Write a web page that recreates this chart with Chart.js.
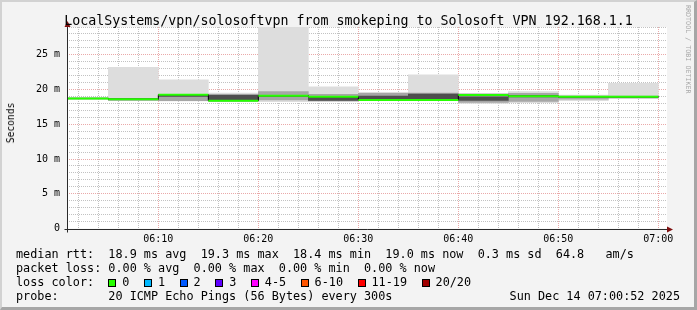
<!DOCTYPE html>
<html>
<head>
<meta charset="utf-8">
<script src="https://cdn.jsdelivr.net/npm/chart.js@4.4.1/dist/chart.umd.min.js"></script>
<style>
    html, body { margin: 0; padding: 0; background: #f3f3f3; }
    #frame {
        position: relative; width: 697px; height: 310px; overflow: hidden;
        background: #f3f3f3; font-family: 'DejaVu Sans Mono', monospace; color: #000;
    }
    #frame::after {
        content: ''; position: absolute; inset: 0; pointer-events: none; box-sizing: border-box;
        border-top: 2px solid #d2d2d2; border-left: 2px solid #d2d2d2;
        border-right: 3px solid #a6a6a6; border-bottom: 3px solid #a6a6a6;
    }
    #wrap { position: absolute; left: 0; top: 0; width: 697px; height: 310px; }
    .title { position: absolute; left: 0; width: 697px; top: 14px; text-align: center;
             font-size: 13.3px; line-height: 13px; white-space: pre; }
    .ylab { position: absolute; left: 11px; top: 122.5px; font-size: 9.6px; line-height: 10px;
            transform: translate(-50%, -50%) rotate(-90deg); white-space: pre; }
    .credit { position: absolute; left: 684px; top: 5px; writing-mode: vertical-rl;
              font-size: 6.7px; color: #a8a8a8; white-space: pre; }
    .leg { position: absolute; left: 16px; font-size: 11.8px; line-height: 14px; white-space: pre; }
    .date { position: absolute; right: 17px; top: 289px; font-size: 11.8px; line-height: 14px; white-space: pre; }
    .it { margin-right: 14.5px; }
    .bx { display: inline-block; width: 6px; height: 6px; border: 1px solid #000;
          margin-right: 6px; vertical-align: middle; }
</style>
</head>
<body>
<div id="frame">
    <div id="wrap"><canvas id="chart-smoke"></canvas></div>
    <div class="title">LocalSystems/vpn/solosoftvpn from smokeping to Solosoft VPN 192.168.1.1</div>
    <div class="ylab">Seconds</div>
    <div class="credit">RRDTOOL / TOBI OETIKER</div>
    <div class="leg" style="top:247px">median rtt:  18.9 ms avg  19.3 ms max  18.4 ms min  19.0 ms now  0.3 ms sd  64.8   am/s</div>
    <div class="leg" style="top:261px">packet loss: 0.00 % avg  0.00 % max  0.00 % min  0.00 % now</div>
    <div class="leg" id="loss-legend" style="top:275px">loss color:  </div>
    <div class="leg" style="top:289px">probe:       20 ICMP Echo Pings (56 Bytes) every 300s</div>
    <div class="date">Sun Dec 14 07:00:52 2025</div>
</div>
<script>
// time window and 5 minute steps (values are in ms)
const graphStart = '06:00:52';
const binEnds = ['06:05', '06:10', '06:15', '06:20', '06:25', '06:30',
                 '06:35', '06:40', '06:45', '06:50', '06:55', '07:00'];

const medianRtt = [18.7, 18.6, 19.25, 18.4, 19.1, 18.95, 18.5, 18.5, 19.2, 19.05, 18.95, 18.95];

// smoke: full range of the 20 pings, then two inner percentile bands
const smokeMin = [18.6, 18.4, 18.35, 18.3, 18.25, 18.3, 18.4, 18.5, 18.0, 18.1, 18.4, 18.7];
const smokeMax = [18.85, 23.2, 21.4, 19.5, 30.0, 20.4, 19.6, 22.1, 19.45, 19.7, 19.2, 20.9];
const midLo = [18.65, 18.45, 18.4, 18.35, 18.5, 18.35, 18.45, 18.5, 18.15, 18.3, 18.6, 18.8];
const midHi = [18.8, 18.75, 19.3, 19.25, 19.7, 19.3, 19.45, 19.5, 19.35, 19.45, 19.05, 19.05];
const innerLo = [18.7, 18.55, 19.0, 18.4, 19.05, 18.45, 18.6, 18.6, 18.45, 18.95, 18.9, 18.9];
const innerHi = [18.75, 18.65, 19.2, 19.2, 19.15, 19.0, 19.05, 19.35, 18.95, 19.1, 19.0, 19.0];

const xTickLabels = ['06:10', '06:20', '06:30', '06:40', '06:50', '07:00'];
const yTickLabels = ['0', '5 m', '10 m', '15 m', '20 m', '25 m'];
const yTickValues = [0, 5, 10, 15, 20, 25];

const lossLabels = ['0', '1', '2', '3', '4-5', '6-10', '11-19', '20/20'];
const lossColors = ['#26ff00', '#00b8ff', '#0059ff', '#5e00ff', '#ff00ff', '#ff5500', '#ff0000', '#a10000'];

const stepMin = 5;
const yMax = 29;

function toMin(s) {
    const [h, m, sec = 0] = s.split(':').map(Number);
    return (h - 6) * 60 + m + sec / 60;
}

const xMin = toMin(graphStart);
const xMax = xMin + 60;
const ends = binEnds.map(toMin);
const xMajor = xTickLabels.map(toMin);

function band(lo, hi) {
    return ends.map((e, i) => ({ x: e - stepMin / 2, y: [lo[i], hi[i]] }));
}

// green median: horizontal pieces only
const medianSegs = [];
ends.forEach((e, i) => {
    medianSegs.push({ x: Math.max(e - stepMin, xMin), y: medianRtt[i] });
    medianSegs.push({ x: e, y: medianRtt[i] });
    medianSegs.push({ x: e, y: null });
});

// thin black step line under it (shows the jumps)
const medianSteps = ends.map((e, i) => ({ x: Math.max(e - stepMin, xMin), y: medianRtt[i] }));
medianSteps.push({ x: ends[ends.length - 1], y: medianRtt[medianRtt.length - 1] });

// loss color legend
const lossEl = document.getElementById('loss-legend');
lossLabels.forEach((lab, i) => {
    const it = document.createElement('span');
    it.className = 'it';
    const bx = document.createElement('span');
    bx.className = 'bx';
    bx.style.background = lossColors[i];
    it.appendChild(bx);
    it.appendChild(document.createTextNode(lab));
    lossEl.appendChild(it);
});

const MAJOR = 'rgba(200, 30, 30, 0.38)';
const MINOR = 'rgba(120, 120, 120, 0.45)';
const NONE = 'rgba(0, 0, 0, 0)';
const tickFont = { family: "'DejaVu Sans Mono'", size: 10 };

const rrdFrame = {
    id: 'rrdFrame',
    beforeDraw(chart) {
        const { ctx, chartArea: a } = chart;
        ctx.save();
        ctx.fillStyle = '#ffffff';
        ctx.fillRect(a.left, a.top, a.right - a.left, a.bottom - a.top);
        ctx.restore();
    },
    afterDraw(chart) {
        const { ctx, chartArea: a } = chart;
        const x0 = Math.round(a.left) + 0.5;
        const y0 = Math.round(a.bottom) + 0.5;
        ctx.save();
        ctx.strokeStyle = '#2a2a2a';
        ctx.lineWidth = 1;
        ctx.beginPath();
        ctx.moveTo(x0 - 3, y0);
        ctx.lineTo(a.right + 4, y0);
        ctx.moveTo(x0, y0 + 3);
        ctx.lineTo(x0, a.top - 4);
        ctx.stroke();
        ctx.fillStyle = '#7f1010';
        ctx.beginPath();
        ctx.moveTo(x0, a.top - 6);
        ctx.lineTo(x0 - 3, a.top);
        ctx.lineTo(x0 + 3, a.top);
        ctx.closePath();
        ctx.fill();
        ctx.beginPath();
        ctx.moveTo(a.right + 6, y0);
        ctx.lineTo(a.right, y0 - 3);
        ctx.lineTo(a.right, y0 + 3);
        ctx.closePath();
        ctx.fill();
        ctx.restore();
    },
};

new Chart(document.getElementById('chart-smoke'), {
    type: 'bar',
    data: {
        datasets: [
            {
                type: 'line',
                label: 'median rtt',
                data: medianSegs,
                borderColor: '#26ff00',
                borderWidth: 2,
                pointRadius: 0,
                spanGaps: false,
                order: 0,
            },
            {
                type: 'line',
                label: 'median step',
                data: medianSteps,
                borderColor: '#000000',
                borderWidth: 1,
                pointRadius: 0,
                stepped: 'before',
                order: 1,
            },
            { label: 'smoke inner', data: band(innerLo, innerHi), backgroundColor: '#4e4e4e', order: 2 },
            { label: 'smoke mid', data: band(midLo, midHi), backgroundColor: '#a6a6a6', order: 3 },
            { label: 'smoke range', data: band(smokeMin, smokeMax), backgroundColor: '#dddddd', order: 4 },
        ],
    },
    options: {
        animation: false,
        responsive: true,
        maintainAspectRatio: false,
        layout: { padding: { left: 0, top: 27, right: 30, bottom: 61.5 } },
        datasets: {
            bar: {
                grouped: false,
                barPercentage: 1,
                categoryPercentage: 1,
                borderWidth: 0,
                clip: 0,
            },
        },
        plugins: {
            legend: { display: false },
            tooltip: { enabled: false },
        },
        scales: {
            x: {
                type: 'linear',
                min: xMin,
                max: xMax,
                offset: false,
                z: 1,
                grid: { offset: false, drawTicks: false, color: MAJOR },
                border: { display: false, dash: [1, 1] },
                ticks: {
                    font: tickFont,
                    color: '#000',
                    padding: 5,
                    maxRotation: 0,
                    autoSkip: false,
                    callback: v => {
                        const i = xMajor.indexOf(v);
                        return i >= 0 ? xTickLabels[i] : '';
                    },
                },
                afterBuildTicks: scale => {
                    scale.ticks = xMajor.map(v => ({ value: v }));
                },
                afterFit: scale => { scale.height = 20; },
            },
            // minor 2-minute grid, no labels
            xMinor: {
                type: 'linear',
                position: 'bottom',
                min: xMin,
                max: xMax,
                offset: false,
                z: 1,
                grid: {
                    offset: false,
                    drawTicks: false,
                    color: ctx => (ctx.tick && ctx.tick.value % 10 === 0 ? NONE : MINOR),
                },
                border: { display: false, dash: [1, 1] },
                ticks: { display: false },
                afterBuildTicks: scale => {
                    const t = [];
                    for (let v = 2; v <= 60; v += 2) t.push({ value: v });
                    scale.ticks = t;
                },
                afterFit: scale => { scale.height = 0; },
            },
            y: {
                min: 0,
                max: yMax,
                z: 1,
                grid: {
                    drawTicks: false,
                    color: ctx => {
                        if (!ctx.tick || ctx.tick.value === 0) return NONE;
                        return ctx.tick.value % 5 === 0 ? MAJOR : MINOR;
                    },
                },
                border: { display: false, dash: [1, 1] },
                ticks: {
                    font: tickFont,
                    color: '#000',
                    padding: 7,
                    autoSkip: false,
                    callback: v => {
                        const i = yTickValues.indexOf(v);
                        return i >= 0 ? yTickLabels[i] : '';
                    },
                },
                afterBuildTicks: scale => {
                    const t = [];
                    for (let v = 0; v <= yMax; v += 1) t.push({ value: v });
                    scale.ticks = t;
                },
                afterFit: scale => { scale.width = 67; },
            },
        },
    },
    plugins: [rrdFrame],
});
</script>
</body>
</html>
